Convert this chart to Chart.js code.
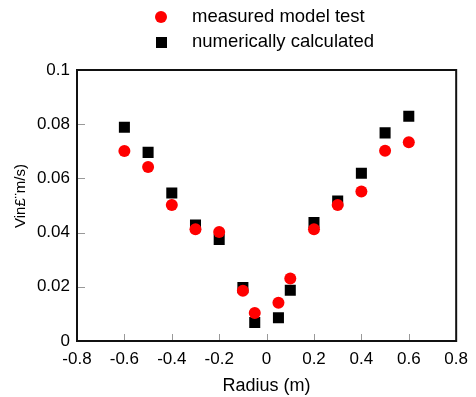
<!DOCTYPE html>
<html>
<head>
<meta charset="utf-8">
<script src="https://cdn.jsdelivr.net/npm/chart.js@4/dist/chart.umd.min.js"></script>
<style>
html,body{margin:0;padding:0;background:#fff;}
#wrap{width:476px;height:397px;position:relative;}
</style>
</head>
<body>
<div id="wrap"><canvas id="c" width="476" height="397"></canvas></div>
<script>
const radius = [-0.6, -0.5, -0.4, -0.3, -0.2, -0.1, -0.05, 0.05, 0.1, 0.2, 0.3, 0.4, 0.5, 0.6];
const measured = [0.0701, 0.0642, 0.0502, 0.0412, 0.0402, 0.0185, 0.0103, 0.0141, 0.0231, 0.0412, 0.0502, 0.0552, 0.0702, 0.0733];
const calculated = [0.0789, 0.0696, 0.0546, 0.0428, 0.0375, 0.0197, 0.0068, 0.0086, 0.0187, 0.0437, 0.0517, 0.0619, 0.0768, 0.0829];
const seriesNames = ['measured model test', 'numerically calculated'];
const xTicks = [-0.8, -0.6, -0.4, -0.2, 0, 0.2, 0.4, 0.6, 0.8];
const yTicks = [0, 0.02, 0.04, 0.06, 0.08, 0.1];
const xTitle = 'Radius (m)';
const yTitle = 'Vin£¨m/s)';

const FONT = '"Liberation Sans", Arial, sans-serif';

const framePlugin = {
  id: 'frame',
  afterDatasetsDraw(chart) {
    const {ctx, chartArea: a, scales} = chart;
    ctx.save();
    ctx.strokeStyle = '#999';
    ctx.lineWidth = 1;
    ctx.beginPath();
    xTicks.forEach(v => {
      const px = Math.round(scales.x.getPixelForValue(v)) + 0.5;
      ctx.moveTo(px, a.bottom); ctx.lineTo(px, a.bottom - 7);
    });
    yTicks.forEach(v => {
      const py = Math.round(scales.y.getPixelForValue(v)) + 0.5;
      ctx.moveTo(a.left, py); ctx.lineTo(a.left + 8, py);
    });
    ctx.stroke();
    ctx.strokeStyle = '#111';
    ctx.lineWidth = 2;
    ctx.strokeRect(a.left, a.top, a.right - a.left, a.bottom - a.top);
    ctx.restore();
  },
  afterDraw(chart) {
    const ctx = chart.ctx;
    ctx.save();
    // y-axis title
    ctx.font = '15px ' + FONT;
    ctx.fillStyle = '#000';
    ctx.textAlign = 'center';
    ctx.textBaseline = 'middle';
    ctx.translate(21, 196);
    ctx.rotate(-Math.PI / 2);
    ctx.fillText(chart.options.scales.y.title.text, 0, 0);
    ctx.restore();

    ctx.save();
    ctx.font = '18.5px ' + FONT;
    ctx.textBaseline = 'middle';
    ctx.textAlign = 'left';
    const ds = chart.data.datasets;
    ctx.fillStyle = ds[0].pointBackgroundColor;
    ctx.beginPath(); ctx.arc(161, 17, 6, 0, Math.PI * 2); ctx.fill();
    ctx.fillStyle = '#000';
    ctx.fillText(ds[0].label, 192, 17);
    ctx.fillStyle = ds[1].pointBackgroundColor;
    ctx.fillRect(156, 37, 11, 11);
    ctx.fillStyle = '#000';
    ctx.fillText(ds[1].label, 192, 42);
    ctx.restore();
  }
};

new Chart(document.getElementById('c'), {
  type: 'scatter',
  data: {
    datasets: [
      {
        label: seriesNames[0],
        data: radius.map((x, i) => ({x, y: measured[i]})),
        pointStyle: 'circle',
        pointRadius: 6,
        pointHoverRadius: 6,
        pointBackgroundColor: '#ff0000',
        pointBorderWidth: 0,
        borderColor: '#ff0000'
      },
      {
        label: seriesNames[1],
        data: radius.map((x, i) => ({x, y: calculated[i]})),
        pointStyle: 'rect',
        pointRadius: 7.8,
        pointHoverRadius: 7.8,
        pointBackgroundColor: '#000000',
        pointBorderWidth: 0,
        borderColor: '#000000'
      }
    ]
  },
  options: {
    responsive: false,
    animation: false,
    events: [],
    layout: {padding: {left: 0, right: 18, top: 70, bottom: 0}},
    plugins: {legend: {display: false}, tooltip: {enabled: false}},
    scales: {
      x: {
        type: 'linear', min: -0.8, max: 0.8,
        afterBuildTicks: s => { s.ticks = xTicks.map(v => ({value: v})); },
        afterFit: s => { s.height = 56; },
        grid: {display: false, drawTicks: false},
        border: {display: false},
        ticks: {
          color: '#000', padding: 8, maxRotation: 0,
          font: {family: FONT, size: 17},
          callback: v => String(Math.round(v * 10) / 10)
        },
        title: {display: true, text: xTitle, color: '#000', font: {family: FONT, size: 18}, padding: {top: 2, bottom: 0}}
      },
      y: {
        type: 'linear', min: 0, max: 0.1,
        afterBuildTicks: s => { s.ticks = yTicks.map(v => ({value: v})); },
        afterFit: s => { s.width = 77; },
        grid: {display: false, drawTicks: false},
        border: {display: false},
        ticks: {
          color: '#000', padding: 7,
          font: {family: FONT, size: 17},
          callback: v => String(Math.round(v * 100) / 100)
        },
        title: {display: false, text: yTitle}
      }
    }
  },
  plugins: [framePlugin]
});
</script>
</body>
</html>
